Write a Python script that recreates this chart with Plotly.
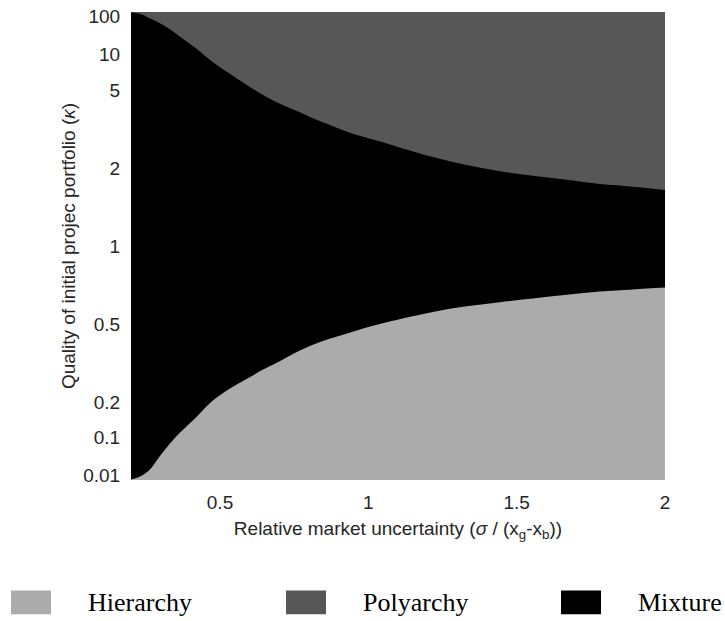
import plotly.graph_objects as go

# Relative market uncertainty (sigma / (xg - xb)) sample points along each boundary
sigma_upper = [0.200, 0.230, 0.261, 0.310, 0.362, 0.420, 0.474, 0.531, 0.588, 0.642, 0.700, 0.757,
               0.811, 0.869, 0.926, 0.980, 1.038, 1.095, 1.217, 1.331, 1.443,
               1.554, 1.669, 1.780, 1.892, 2.000]
# kappa on the Polyarchy / Mixture boundary
kappa_upper = [1000, 250, 76, 34, 18.6, 11.8, 8.4, 6.63, 5.45, 4.68, 4.12, 3.74,
               3.42, 3.15, 2.92, 2.76, 2.62, 2.48, 2.23, 2.06, 1.94,
               1.86, 1.79, 1.72, 1.68, 1.63]

sigma_lower = [0.200, 0.227, 0.261, 0.304, 0.362, 0.420, 0.474, 0.531, 0.588, 0.642,
               0.700, 0.757, 0.811, 0.869, 0.926, 0.980, 1.038, 1.095, 1.217,
               1.331, 1.443, 1.554, 1.669, 1.780, 1.892, 2.000]
# kappa on the Hierarchy / Mixture boundary
kappa_lower = [0.001, 0.0063, 0.021, 0.060, 0.110, 0.155, 0.203, 0.241, 0.274, 0.307,
               0.339, 0.375, 0.405, 0.432, 0.455, 0.478, 0.500, 0.520, 0.560,
               0.590, 0.613, 0.634, 0.655, 0.674, 0.687, 0.698]

y_tick_kappa = [0.01, 0.1, 0.2, 0.5, 1, 2, 5, 10, 100]
y_tick_labels = ["0.01", "0.1", "0.2", "0.5", "1", "2", "5", "10", "100"]
x_tick_vals = [0.5, 1, 1.5, 2]
x_tick_labels = ["0.5", "1", "1.5", "2"]

legend_names = ["Hierarchy", "Polyarchy", "Mixture"]
legend_colors = ["#ababab", "#575757", "#000000"]


def to_axis(k):
    return k / (1.0 + k)


fig = go.Figure()
fig.add_trace(go.Scatter(
    x=sigma_upper, y=[to_axis(k) for k in kappa_upper],
    mode="lines", line=dict(width=0, color="#000000", shape="spline", smoothing=1.0),
    fill="tozeroy", fillcolor="#000000", name="Mixture",
    showlegend=False, hoverinfo="skip"))
fig.add_trace(go.Scatter(
    x=sigma_lower, y=[to_axis(k) for k in kappa_lower],
    mode="lines", line=dict(width=0, color="#ababab", shape="spline", smoothing=1.0),
    fill="tozeroy", fillcolor="#ababab", name="Hierarchy",
    showlegend=False, hoverinfo="skip"))

# custom legend below the chart
W, H = 534.0, 474.0
sw_left_px = [11, 286, 561]
shapes = []
annotations = []
for i, (nm, col) in enumerate(zip(legend_names, legend_colors)):
    x0 = sw_left_px[i]
    shapes.append(dict(type="rect", xref="paper", yref="paper",
                       x0=(x0 - 131) / W, x1=(x0 + 40 - 131) / W,
                       y0=(480 - 616) / H, y1=(480 - 592) / H,
                       fillcolor=col, line=dict(width=0)))
    annotations.append(dict(xref="paper", yref="paper",
                            x=(x0 + 75 - 131) / W, y=(480 - 604) / H,
                            xanchor="left", yanchor="middle", showarrow=False,
                            text=nm,
                            font=dict(family="Liberation Serif", size=26, color="#000000")))

fig.update_layout(
    width=725, height=621,
    margin=dict(l=131, r=60, t=6, b=141),
    paper_bgcolor="white",
    plot_bgcolor="#575757",
    shapes=shapes,
    annotations=annotations,
    showlegend=False,
    xaxis=dict(range=[0.2, 2], tickvals=x_tick_vals, ticktext=x_tick_labels,
               showgrid=False, zeroline=False, showline=False,
               ticks="outside", ticklen=5, tickcolor="rgba(0,0,0,0)",
               tickfont=dict(family="Liberation Sans", size=19, color="#262626"),
               title=dict(text="Relative market uncertainty (<i>σ</i> / (x<sub>g</sub>-x<sub>b</sub>))",
                          font=dict(family="Liberation Sans", size=19, color="#262626"),
                          standoff=9)),
    yaxis=dict(range=[0, 1], tickvals=[to_axis(k) for k in y_tick_kappa],
               ticktext=y_tick_labels,
               showgrid=False, zeroline=False, showline=False,
               ticks="outside", ticklen=6, tickcolor="rgba(0,0,0,0)",
               tickfont=dict(family="Liberation Sans", size=19, color="#262626"),
               title=dict(text="Quality of initial projec portfolio (<i>κ</i>)",
                          font=dict(family="Liberation Sans", size=19, color="#262626"),
                          standoff=2)),
)

fig.write_html("out.html", config={"displayModeBar": False},
               post_script="document.body.style.margin='0px';document.body.style.overflow='hidden';")
